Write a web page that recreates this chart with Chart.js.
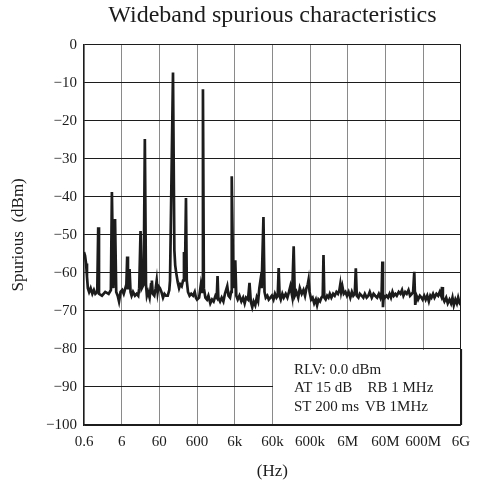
<!DOCTYPE html>
<html>
<head>
<meta charset="utf-8">
<script src="https://cdn.jsdelivr.net/npm/chart.js@4/dist/chart.umd.min.js"></script>
<style>
  body { margin: 0; background: #fff; }
  canvas { display: block; }
</style>
</head>
<body>
<canvas id="spur" width="478" height="489"></canvas>
<script>
const freqHz = [
  0.6, 0.64, 0.68, 0.72, 0.76, 0.82, 0.9, 1.0, 1.1, 1.2, 1.35, 1.43, 1.5, 1.8, 2.2, 2.7, 3.1, 3.3, 3.6, 4.0, 4.3, 4.7, 5.1, 5.6,
  6.2, 6.8, 7.5, 8.0, 8.4, 8.8, 9.2, 9.7, 10.3, 11, 12, 13.5, 15, 16.5, 17.5, 19, 20.5, 23, 24.7, 26.5, 28, 30, 33, 36, 38, 40, 44, 48, 51, 54, 57,
  62, 68, 75, 82, 90, 100, 110, 115, 138, 150, 158, 168, 185, 200, 215, 235, 255, 270, 285, 305, 320, 345, 380, 420, 470, 520, 560,
  600, 680, 760, 820, 860, 910, 1000, 1100, 1200, 1350, 1500, 1650, 1850, 2000, 2100, 2200, 2450, 2700, 3000, 3300, 3800, 4100, 4500, 4800, 5000, 5500,
  6200, 6600, 7200, 8000, 9000, 10000, 11000, 12000, 13500, 14800, 16000, 17500, 19000, 21000, 23000, 25000, 27000, 28900, 31000, 34700, 37000, 40000, 44000, 48000, 53000, 58000,
  6.4e4, 7.0e4, 7.7e4, 8.3e4, 8.8e4, 9.3e4, 1.0e5, 1.1e5, 1.2e5, 1.35e5, 1.5e5, 1.65e5, 1.8e5, 2.0e5, 2.2e5, 2.35e5, 2.6e5, 2.9e5, 3.2e5, 3.6e5, 4.0e5, 4.4e5, 4.8e5, 5.2e5, 5.47e5, 5.8e5,
  6.4e5, 7.0e5, 7.7e5, 8.5e5, 9.2e5, 1.0e6, 1.1e6, 1.2e6, 1.3e6, 1.36e6, 1.43e6, 1.55e6, 1.7e6, 1.85e6, 2.0e6, 2.2e6, 2.45e6, 2.7e6, 3.0e6, 3.3e6, 3.6e6, 3.8e6, 4.0e6, 4.3e6, 4.7e6, 5.2e6, 5.7e6,
  6.3e6, 7.0e6, 7.7e6, 8.4e6, 9.2e6, 9.8e6, 1.04e7, 1.15e7, 1.25e7, 1.4e7, 1.55e7, 1.7e7, 1.9e7, 2.1e7, 2.3e7, 2.6e7, 2.9e7, 3.2e7, 3.6e7, 4.0e7, 4.4e7, 4.75e7, 4.97e7, 5.15e7, 5.4e7, 5.8e7,
  6.4e7, 7.0e7, 7.7e7, 8.4e7, 9.2e7, 1.0e8, 1.1e8, 1.2e8, 1.35e8, 1.5e8, 1.65e8, 1.8e8, 2.0e8, 2.2e8, 2.45e8, 2.7e8, 3.0e8, 3.25e8, 3.49e8, 3.7e8, 4.0e8, 4.4e8, 4.9e8, 5.4e8, 5.8e8,
  6.4e8, 7.0e8, 7.7e8, 8.5e8, 9.3e8, 1.0e9, 1.1e9, 1.2e9, 1.35e9, 1.5e9, 1.65e9, 1.8e9, 1.9e9, 2.0e9, 2.2e9, 2.45e9, 2.7e9, 3.0e9, 3.3e9, 3.6e9, 3.9e9, 4.3e9, 4.7e9, 5.1e9, 5.6e9, 6.0e9
];
const spuriousDbm = [
  -54.5, -55.5, -57.5, -61, -64, -65, -64, -65.5, -64.5, -65.5, -65, -48, -65.5, -66, -65, -65.5, -64.5, -38.7, -64, -45.8, -65, -66, -67.5, -65,
  -64.5, -65.5, -64, -63, -55.7, -64, -64, -59, -65, -66, -65, -66, -65.5, -66, -64, -49, -64, -63, -24.8, -63, -66, -65, -66.5, -63, -62, -65.5, -66, -64, -62, -65, -63.5,
  -64, -65, -66.5, -65.5, -66, -66, -64.5, -62, -7.3, -54, -58, -60, -62.5, -64, -63, -63.5, -62, -54.5, -62, -40.3, -62, -65, -66, -65.5, -66, -65, -66.5,
  -67, -66.5, -63, -65, -11.7, -64, -66.5, -67, -66, -68, -67, -67.5, -66, -66.5, -60.8, -66.5, -67.5, -66.5, -67.5, -65.5, -63.5, -66, -66.5, -65, -34.6, -64,
  -56.7, -66, -67, -66, -67.5, -66.5, -68, -66.5, -67, -62.6, -67.5, -69, -67.5, -68.5, -66.5, -67.5, -64, -62, -64, -45.3, -65, -66.5, -66, -67, -66.5, -66,
  -67, -65.5, -66.5, -66, -58.7, -66, -67, -65.5, -66.5, -65.5, -66.5, -65, -63.5, -66, -53, -66, -65, -66.5, -64, -65.5, -64.5, -66, -64, -63, -61.8, -65,
  -67, -66.5, -68, -67, -68.5, -67, -67.5, -66.5, -66, -55.3, -66.5, -67, -66, -66.5, -65.5, -66.5, -65.5, -66, -65, -65.5, -64.5, -63, -65, -63.5, -65.5, -65, -66,
  -65, -66.5, -65, -66, -65.5, -58.8, -66, -66.5, -65.5, -66, -66.5, -65.5, -66.5, -66, -65, -66.5, -65.5, -66, -66.5, -65.5, -66.5, -65, -57, -69, -66, -66.5,
  -66, -66.5, -65.5, -66.5, -65, -66, -65.5, -66, -65, -65.5, -64.5, -66, -65, -65.5, -64.5, -66, -65.5, -65, -59.7, -68.4, -66, -67, -66, -66.5, -67,
  -66, -67, -66, -67.5, -66, -66.5, -65.5, -66.5, -65.5, -66, -65, -66, -63.7, -66.5, -67.5, -66.5, -68, -67, -68, -66.5, -68.5, -67, -68, -66.5, -68, -68.4
];

const xTickValues = [0.6, 6, 60, 600, 6e3, 6e4, 6e5, 6e6, 6e7, 6e8, 6e9];
const xTickLabels = ['0.6', '6', '60', '600', '6k', '60k', '600k', '6M', '60M', '600M', '6G'];
const settingsText = [
  ['RLV: 0.0 dBm', ''],
  ['AT 15 dB', 'RB 1 MHz'],
  ['ST 200 ms', 'VB 1MHz']
];

const serif = '"Liberation Serif", "Times New Roman", serif';
const ink = '#1c1c1c';

// white panel in the lower right with the analyzer settings
const settingsBox = {
  id: 'settingsBox',
  beforeDatasetsDraw(chart) {
    const { ctx, chartArea, scales } = chart;
    const left = Math.round(scales.x.getPixelForValue(6e4)) + 1;
    const top = Math.round(scales.y.getPixelForValue(-80)) + 1;
    const right = Math.round(scales.x.getPixelForValue(6e9));
    ctx.save();
    ctx.fillStyle = '#fff';
    ctx.fillRect(left, top, right - 1 - left, chartArea.bottom - 1 - top);
    // keep the right frame edge continuous
    ctx.strokeStyle = ink;
    ctx.lineWidth = 1.2;
    ctx.beginPath();
    ctx.moveTo(right + 0.5, top - 1);
    ctx.lineTo(right + 0.5, chartArea.bottom);
    ctx.stroke();
    ctx.fillStyle = ink;
    ctx.font = '15px ' + serif;
    ctx.textBaseline = 'middle';
    settingsText.forEach((row, i) => {
      const y = top + 20 + i * 18.4;
      ctx.fillText(row[0], left + 21, y);
      if (row[1]) ctx.fillText(row[1], left + 92 + (i === 1 ? 2.5 : 0), y);
    });
    ctx.restore();
  }
};

new Chart(document.getElementById('spur'), {
  type: 'line',
  data: {
    datasets: [{
      data: freqHz.map((f, i) => ({ x: f, y: spuriousDbm[i] })),
      borderColor: ink,
      borderWidth: 2.7,
      pointRadius: 0,
      tension: 0,
      fill: false,
    }],
  },
  options: {
    responsive: false,
    animation: false,
    layout: { padding: { left: 0, right: 16, top: 0, bottom: 0 } },
    plugins: {
      legend: { display: false },
      tooltip: { enabled: false },
      title: {
        display: true,
        fullSize: false,
        text: 'Wideband spurious characteristics',
        color: ink,
        font: { family: serif, size: 24, weight: 'normal' },
        padding: { top: 1, bottom: 15 },
      },
    },
    scales: {
      x: {
        type: 'logarithmic',
        min: 0.6,
        max: 6e9,
        afterBuildTicks: (scale) => { scale.ticks = xTickValues.map(v => ({ value: v })); },
        afterFit: (scale) => { scale.height = 64; },
        ticks: {
          autoSkip: false,
          maxRotation: 0,
          padding: 8,
          color: ink,
          font: { family: serif, size: 15 },
          callback: (v, i) => xTickLabels[i],
        },
        grid: {
          drawTicks: false,
          lineWidth: 1,
          color: (c) => (c.index === xTickValues.length - 1 ? ink : '#8a8a8a'),
        },
        border: { color: ink, width: 1.2 },
        title: {
          display: true,
          text: '(Hz)',
          color: ink,
          font: { family: serif, size: 17 },
          padding: { top: 0, bottom: 7 },
        },
      },
      y: {
        min: -100,
        max: 0,
        afterFit: (scale) => { scale.width = 84; },
        ticks: {
          stepSize: 10,
          padding: 7,
          color: ink,
          font: { family: serif, size: 15 },
          callback: (v) => String(v).replace('-', '\u2212'),
        },
        grid: { drawTicks: false, lineWidth: 1, color: ink },
        border: { color: ink, width: 1.2 },
        title: {
          display: true,
          text: 'Spurious  (dBm)',
          color: ink,
          font: { family: serif, size: 17 },
          padding: { top: 8, bottom: 0 },
        },
      },
    },
  },
  plugins: [settingsBox],
});
</script>
</body>
</html>
